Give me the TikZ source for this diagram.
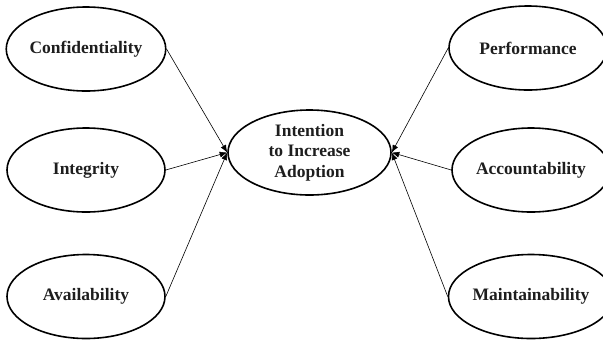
\documentclass[tikz,border=0pt]{standalone}
\usepackage{fontspec}
\setmainfont{Liberation Serif}
\usetikzlibrary{shapes.geometric,arrows.meta}
\definecolor{ink}{HTML}{1E1E1E}
\begin{document}
\begin{tikzpicture}[x=1pt,y=-1pt,
  construct/.style={ellipse, draw=black, line width=1.6pt, inner sep=0pt,
    minimum width=158pt, minimum height=84pt, text=ink,
    font=\fontsize{17.5}{20.6}\selectfont\bfseries, align=center},
  link/.style={draw=black, line width=0.6pt, -{Latex[length=7.5pt,width=6pt]}}]
  \useasboundingbox (0,0) rectangle (603,341);
  % outcome construct
  \node[construct, minimum width=163pt, minimum height=85pt] (mid) at (309.5,152.5)
    {Intention\\to Increase\\Adoption};
  % security constructs (left)
  \node[construct] (conf)  at (86,49)    {Confidentiality};
  \node[construct] (integ) at (86,170)   {Integrity};
  \node[construct] (avail) at (86,296.5) {Availability};
  % quality constructs (right)
  \node[construct] (perf)  at (528,48)    {Performance};
  \node[construct] (acct)  at (531,170)   {Accountability};
  \node[construct] (maint) at (531,296.5) {Maintainability};
  % paths
  \draw[link] (conf.east)  -- (mid.west);
  \draw[link] (integ.east) -- (mid.west);
  \draw[link] (avail.east) -- (mid.west);
  \draw[link] (perf.west)  -- (mid.east);
  \draw[link] (acct.west)  -- (mid.east);
  \draw[link] (maint.west) -- (mid.east);
\end{tikzpicture}
\end{document}
